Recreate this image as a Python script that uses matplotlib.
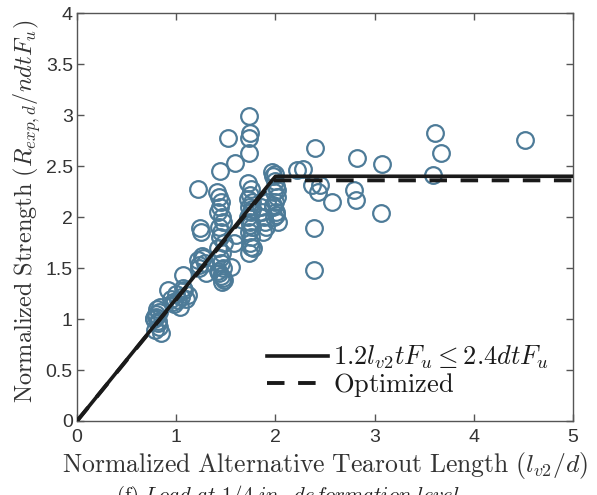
import numpy as np
import matplotlib
matplotlib.use("Agg")
import matplotlib.pyplot as plt

# test data (normalized tearout length, normalized strength)
x_pts = [
    0.78, 0.80, 0.82, 0.79, 0.83, 0.81, 0.84, 0.80, 0.82, 0.85, 0.78, 0.83,
    0.92, 0.95, 0.98, 1.00, 1.02, 1.05, 1.08, 1.10, 1.04, 0.97, 1.07, 1.12,
    1.07, 1.22, 1.24, 1.25, 1.27, 1.29, 1.23, 1.26, 1.30, 1.22, 1.23,
    1.41, 1.43, 1.45, 1.44, 1.42, 1.46, 1.47, 1.43, 1.45, 1.44, 1.48, 1.42,
    1.46, 1.44, 1.45, 1.47, 1.43, 1.45, 1.48, 1.46, 1.44, 1.42, 1.47,
    1.52, 1.59, 1.55, 1.58, 1.60,
    1.73, 1.74, 1.73, 1.73, 1.72, 1.75, 1.74, 1.76, 1.73, 1.75, 1.72, 1.74,
    1.76, 1.73, 1.75, 1.74, 1.77, 1.73, 1.75, 1.72, 1.76, 1.74,
    1.85, 1.88, 1.90, 1.87, 1.89, 1.86, 1.91,
    1.97, 1.98, 2.00, 2.01, 1.99, 2.02, 2.00, 1.98, 2.01, 1.99, 2.03, 2.00,
    2.02, 1.98, 2.01,
    2.22, 2.28, 2.37, 2.40, 2.45, 2.43, 2.57, 2.39, 2.39,
    2.79, 2.82, 2.81, 3.06, 3.07, 3.59, 3.61, 3.67, 4.51,
]
y_pts = [
    1.00, 1.02, 0.96, 0.89, 0.92, 1.10, 1.12, 1.05, 0.98, 0.86, 1.01, 1.07,
    1.28, 1.20, 1.15, 1.25, 1.19, 1.22, 1.28, 1.20, 1.12, 1.17, 1.30, 1.24,
    1.43, 2.28, 1.89, 1.85, 1.60, 1.55, 1.50, 1.62, 1.45, 1.58, 1.53,
    2.25, 2.20, 2.15, 2.10, 2.05, 2.00, 1.95, 1.90, 1.85, 1.80, 1.75, 1.70,
    1.65, 1.60, 1.55, 1.50, 1.45, 1.42, 1.38, 1.36, 2.45, 1.47, 1.40,
    2.78, 2.53, 1.51, 1.75, 1.82,
    2.99, 2.82, 2.78, 2.63, 2.33, 2.28, 2.22, 2.15, 2.10, 2.05, 2.00, 1.95,
    1.90, 1.85, 1.80, 1.75, 1.70, 1.65, 1.71, 2.18, 2.08, 1.92,
    2.10, 2.00, 1.90, 1.85, 1.95, 2.05, 2.15,
    2.44, 2.40, 2.35, 2.30, 2.25, 2.20, 2.15, 2.10, 2.05, 2.00, 1.95, 2.42,
    2.27, 2.12, 2.02,
    2.46, 2.47, 2.31, 2.68, 2.31, 2.25, 2.15, 1.89, 1.48,
    2.27, 2.58, 2.17, 2.04, 2.52, 2.41, 2.82, 2.63, 2.76,
]

# design equation and optimized fit
x_line = [0, 2.0, 5.0]
y_design = [0, 2.4, 2.4]
y_opt = [0, 2.36, 2.36]
x_opt = [0, 1.98, 5.0]

plt.rcParams['mathtext.fontset'] = 'cm'
plt.rcParams['font.family'] = 'Liberation Sans'

fig = plt.figure(figsize=(5.97, 4.95), dpi=100)
ax = fig.add_axes([0.129, 0.1495, 0.831, 0.824])

ax.plot(x_pts, y_pts, 'o', ms=12, mfc='none', mec='#4d7b98', mew=1.6, zorder=2)
ax.plot(x_line, y_design, '-', color='#1a1a1a', lw=2.6, zorder=3,
        label=r'$1.2l_{v2}tF_u \leq 2.4dtF_u$')
ax.plot(x_opt, y_opt, '--', color='#1a1a1a', lw=2.8, dashes=(4.5, 3.5), zorder=3,
        label=r'$\mathrm{Optimized}$')

ax.set_xlim(0, 5)
ax.set_ylim(0, 4)
ax.set_xticks([0, 1, 2, 3, 4, 5])
ax.set_yticks(np.arange(0, 4.01, 0.5))
ax.set_yticklabels(['0', '0.5', '1', '1.5', '2', '2.5', '3', '3.5', '4'])
ax.tick_params(direction='in', length=5, top=True, right=True, labelsize=14,
               colors='#555555', labelcolor='#333333', width=1)
ax.tick_params(axis='x', pad=6)
ax.tick_params(axis='y', pad=3)
for s in ax.spines.values():
    s.set_color('#555555')
    s.set_linewidth(1)

ax.set_xlabel(r'$\mathrm{Normalized\ Alternative\ Tearout\ Length}\ (l_{v2}/d)$',
              fontsize=18.5, color='#333333', labelpad=3)
ax.set_ylabel(r'$\mathrm{Normalized\ Strength}\ (R_{exp,d}/ndtF_u)$',
              fontsize=17.5, color='#333333', labelpad=0)
ax.yaxis.set_label_coords(-0.068, 0.515)

leg = ax.legend(loc='lower right', bbox_to_anchor=(1.0, -0.005), frameon=False,
                fontsize=19, handlelength=2.3, handletextpad=0.2, labelspacing=0.0)
for t in leg.get_texts():
    t.set_color('#1a1a1a')

fig.text(0.195, -0.012, r'$\mathrm{(f)}\ Load\ at\ 1/4\ in.\ deformation\ level$',
         fontsize=15, color='#222222')

fig.savefig('out.png', dpi=100)
